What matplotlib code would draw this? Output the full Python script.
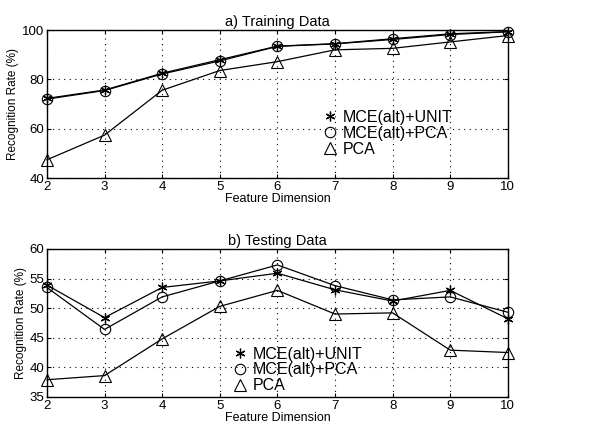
import numpy as np
import matplotlib
matplotlib.use("Agg")
import matplotlib.pyplot as plt
from matplotlib.lines import Line2D

plt.rcParams['font.family'] = ['Liberation Sans', 'DejaVu Sans']

dims = [2, 3, 4, 5, 6, 7, 8, 9, 10]
labels = ['MCE(alt)+UNIT', 'MCE(alt)+PCA', 'PCA']

# a) training data
train_unit = [72.3, 75.7, 82.5, 88.0, 93.5, 94.5, 96.5, 98.5, 99.4]
train_mpca = [72.0, 75.5, 82.2, 87.5, 93.4, 94.4, 96.2, 98.2, 99.3]
train_pca = [47.4, 57.4, 75.6, 83.6, 87.2, 92.0, 92.6, 95.2, 97.8]

# b) testing data
test_unit = [53.9, 48.4, 53.5, 54.6, 55.9, 53.1, 51.2, 53.0, 48.2]
test_mpca = [53.5, 46.4, 51.9, 54.6, 57.3, 53.8, 51.4, 51.9, 49.3]
test_pca = [37.9, 38.6, 44.8, 50.3, 53.0, 49.0, 49.2, 42.9, 42.5]

fig = plt.figure(figsize=(5.94, 4.3), dpi=100)
ax1 = fig.add_axes([0.079, 0.586, 0.776, 0.344])
ax2 = fig.add_axes([0.079, 0.077, 0.776, 0.344])

star = (6, 2, 0)
styles = [dict(marker=star, ms=7, mew=0.9, mfc='k'),
          dict(marker='o', ms=7.5, mew=0.8, mfc='none'),
          dict(marker='^', ms=8, mew=0.8, mfc='none')]


def panel(ax, series, title, ylim, yticks, leg_anchor):
    for vals, st in zip(series, styles):
        ax.plot(dims, vals, color='k', lw=0.9, clip_on=False, zorder=3, **st)
    ax.set_xlim(2, 10)
    ax.set_ylim(*ylim)
    ax.set_xticks(dims)
    ax.set_yticks(yticks)
    ax.grid(True, color='k', linestyle=(0, (1, 4)), linewidth=0.8)
    ax.tick_params(direction='in', length=3, labelsize=9.5, top=True, right=True, pad=2)
    for s in ax.spines.values():
        s.set_linewidth(1.0)
    ax.set_title(title, fontsize=10.5, pad=3)
    ax.set_xlabel('Feature Dimension', fontsize=9, labelpad=0)
    ax.set_ylabel('Recognition Rate (%)', fontsize=8.5, labelpad=2)
    handles = [Line2D([], [], color='k', linestyle='none', **st) for st in styles]
    ax.legend(handles, labels, loc='upper left', bbox_to_anchor=leg_anchor, frameon=False,
              fontsize=11.5, handlelength=0.8, handletextpad=0.4, labelspacing=0.05,
              borderpad=0, borderaxespad=0)


panel(ax1, [train_unit, train_mpca, train_pca], 'a) Training Data', (40, 100),
      [40, 60, 80, 100], (0.6, 0.46))
panel(ax2, [test_unit, test_mpca, test_pca], 'b) Testing Data', (35, 60),
      [35, 40, 45, 50, 55, 60], (0.405, 0.34))

fig.savefig('out.png', dpi=100)
